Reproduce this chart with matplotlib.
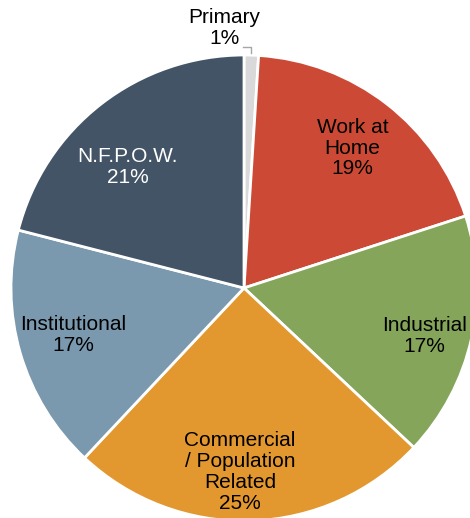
import numpy as np
import matplotlib
matplotlib.use("Agg")
import matplotlib.pyplot as plt

plt.rcParams['font.family'] = ['Liberation Sans', 'DejaVu Sans']

labels = ["Primary", "Work at\nHome", "Industrial", "Commercial\n/ Population\nRelated",
          "Institutional", "N.F.P.O.W."]
shares = [1, 19, 17, 25, 17, 21]
colors = ["#d9d9d9", "#cc4a35", "#84a55a", "#e3982f", "#7a99ae", "#435466"]
text_colors = ["black", "black", "black", "black", "black", "white"]
# label placement: fraction of radius and angle tweak (degrees)
label_dist = [1.12, 0.76, 0.80, 0.79, 0.76, 0.72]
label_rot = [0, 0, -2.3, -3, -0.8, 6]

W, H = 470, 518
fig = plt.figure(figsize=(W / 100, H / 100), dpi=100)
ax = fig.add_axes([0, 0, 1, 1])
cx, cy, R = 244, H - 288, 233

wedges, _ = ax.pie(shares, colors=colors, startangle=90, counterclock=False,
                   radius=R, center=(cx, cy),
                   wedgeprops=dict(edgecolor="white", linewidth=2))

for w, lab, pct, tc, d, rot in zip(wedges, labels, shares, text_colors, label_dist, label_rot):
    mid = np.deg2rad((w.theta1 + w.theta2) / 2 + rot)
    if lab == "Primary":
        # label sits outside, with a small elbow leader line
        ex = cx + R * np.cos(mid)
        ey = cy + R * np.sin(mid)
        ax.plot([ex - 8, ex, ex], [ey + 8, ey + 8, ey + 2], color="#a6a6a6", lw=1)
        ax.text(ex - 27, ey + 27, f"{lab}\n{pct}%", ha="center", va="center",
                fontsize=15, color=tc, linespacing=1.1)
    else:
        x = cx + d * R * np.cos(mid)
        y = cy + d * R * np.sin(mid)
        ax.text(x, y, f"{lab}\n{pct}%", ha="center", va="center",
                fontsize=15, color=tc, linespacing=1.12)

ax.set_xlim(0, W)
ax.set_ylim(0, H)
ax.set_aspect("equal")
ax.axis("off")
fig.savefig("out.png", dpi=100)
